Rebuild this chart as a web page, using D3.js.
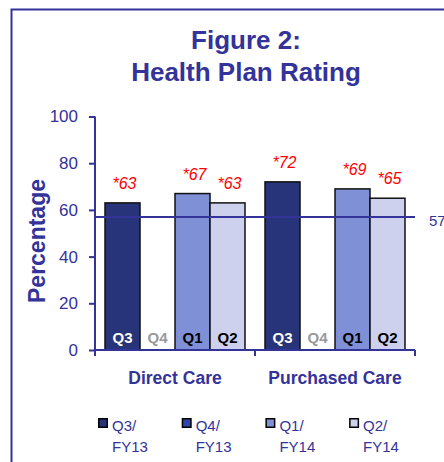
<!DOCTYPE html>
<html><head><meta charset="utf-8">
<script src="https://cdn.jsdelivr.net/npm/d3@7"></script>
<style>
html,body{margin:0;padding:0;background:#fff;}
svg{display:block;font-family:"Liberation Sans",Arial,Helvetica,sans-serif;}
</style></head>
<body>
<script>
const categories = ["Direct Care", "Purchased Care"];
const quarters = ["Q3", "Q4", "Q1", "Q2"];
const legendLabels = [["Q3/", "FY13"], ["Q4/", "FY13"], ["Q1/", "FY14"], ["Q2/", "FY14"]];
const directCare = [63, null, 67, 63];
const purchasedCare = [72, null, 69, 65];
const benchmark = 57;
const yTicks = [0, 20, 40, 60, 80, 100];
const titleLines = ["Figure 2:", "Health Plan Rating"];

const colors = ["#283479", "#3344aa", "#8090d6", "#cdd1ed"];
const qLabelColors = ["#ffffff", "#999999", "#000000", "#000000"];
const navy = "#333399";

const W = 444, H = 462;
const svg = d3.select("body").append("svg").attr("width", W).attr("height", H);

// frame
svg.append("rect").attr("x", 11.5).attr("y", 9.5).attr("width", 460).attr("height", 480)
  .attr("fill", "none").attr("stroke", navy).attr("stroke-width", 2);

// title
svg.selectAll("text.title").data(titleLines).join("text")
  .attr("class", "title")
  .attr("x", 246).attr("y", (d, i) => 49 + i * 32)
  .attr("text-anchor", "middle").attr("font-weight", "bold").attr("font-size", 26)
  .attr("fill", navy).text(d => d);

const y = d3.scaleLinear().domain([0, 100]).range([350, 116.5]);
const x0 = d3.scaleBand().domain(categories).range([95, 415]);
const x1 = d3.scaleBand().domain(quarters).range([0, x0.bandwidth()]).paddingOuter(10 / 35);

const data = [directCare, purchasedCare];

// y axis
const yAxis = svg.append("g").attr("transform", "translate(95,0)")
  .call(d3.axisLeft(y).tickValues(yTicks).tickSize(6).tickPadding(11).tickSizeOuter(0));
yAxis.select(".domain").remove();
yAxis.selectAll(".tick line").attr("stroke", navy).attr("stroke-width", 2);
yAxis.selectAll(".tick text").attr("fill", navy).attr("font-size", 17)
  .attr("font-family", "Liberation Sans,Arial,sans-serif");
svg.append("line").attr("x1", 95).attr("x2", 95).attr("y1", y(100)).attr("y2", 356)
  .attr("stroke", navy).attr("stroke-width", 2);

// y title
svg.append("text").attr("transform", "translate(45,241) rotate(-90)")
  .attr("text-anchor", "middle").attr("font-weight", "bold").attr("font-size", 23)
  .attr("fill", navy).text("Percentage");

// bars
const groups = svg.selectAll("g.grp").data(categories).join("g")
  .attr("class", "grp").attr("transform", d => `translate(${x0(d)},0)`);

groups.each(function (cat, ci) {
  const g = d3.select(this);
  const vals = quarters.map((q, qi) => ({ q, qi, v: data[ci][qi] }));
  g.selectAll("rect").data(vals.filter(d => d.v != null)).join("rect")
    .attr("x", d => x1(d.q)).attr("width", x1.bandwidth())
    .attr("y", d => y(d.v)).attr("height", d => y(0) - y(d.v))
    .attr("fill", d => colors[d.qi]).attr("stroke", "#111").attr("stroke-width", 1.5);
  g.selectAll("text.q").data(vals).join("text").attr("class", "q")
    .attr("x", d => x1(d.q) + x1.bandwidth() / 2).attr("y", 343)
    .attr("text-anchor", "middle").attr("font-weight", "bold").attr("font-size", 15)
    .attr("fill", d => qLabelColors[d.qi]).text(d => d.q);
  g.selectAll("text.v").data(vals.filter(d => d.v != null)).join("text").attr("class", "v")
    .attr("x", d => x1(d.q) + x1.bandwidth() / 2 + 2).attr("y", d => y(d.v) - 14)
    .attr("text-anchor", "middle").attr("font-style", "italic").attr("font-size", 16)
    .attr("fill", "#ff0000").text(d => "*" + d.v);
});

// benchmark line
svg.append("line").attr("x1", 95).attr("x2", 415).attr("y1", y(benchmark)).attr("y2", y(benchmark))
  .attr("stroke", navy).attr("stroke-width", 2);
svg.append("text").attr("x", 429).attr("y", y(benchmark) + 9).attr("font-size", 15)
  .attr("fill", navy).text(benchmark);

// x axis
svg.append("line").attr("x1", 95).attr("x2", 415).attr("y1", 350).attr("y2", 350)
  .attr("stroke", navy).attr("stroke-width", 2);
const xTicks = [95, ...categories.map(c => x0(c) + x0.bandwidth())];
svg.selectAll("line.xt").data(xTicks).join("line").attr("class", "xt")
  .attr("x1", d => d).attr("x2", d => d).attr("y1", 350).attr("y2", 356)
  .attr("stroke", navy).attr("stroke-width", 2);
svg.selectAll("text.cat").data(categories).join("text").attr("class", "cat")
  .attr("x", d => x0(d) + x0.bandwidth() / 2).attr("y", 384)
  .attr("text-anchor", "middle").attr("font-weight", "bold").attr("font-size", 17.5)
  .attr("fill", navy).text(d => d);

// legend
const leg = svg.selectAll("g.leg").data(legendLabels).join("g").attr("class", "leg")
  .attr("transform", (d, i) => `translate(${98 + i * 83.7},418)`);
leg.append("rect").attr("x", 0.75).attr("y", 0.75).attr("width", 8.5).attr("height", 8.5)
  .attr("fill", (d, i) => colors[i]).attr("stroke", "#000").attr("stroke-width", 1.5);
leg.append("text").attr("x", 14).attr("y", 13).attr("font-size", 15).attr("fill", navy).text(d => d[0]);
leg.append("text").attr("x", 14).attr("y", 34).attr("font-size", 15).attr("fill", navy).text(d => d[1]);
</script>
</body></html>
